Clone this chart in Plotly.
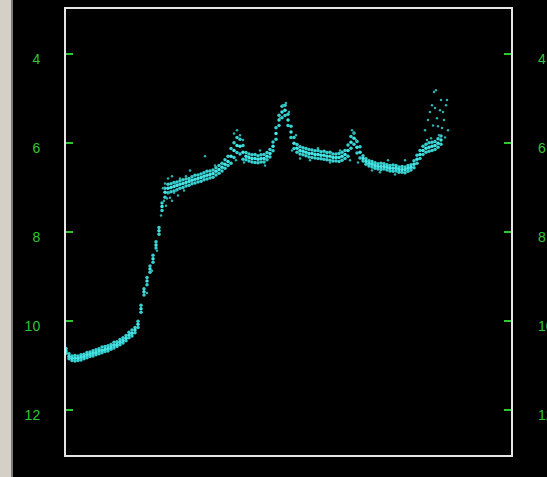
import plotly.graph_objects as go

# sample index (arbitrary units along the trace)
sample = [0, 3, 6, 9, 12, 15, 18, 21, 24, 27,
          30, 33, 36, 39, 42, 45, 48, 51, 54, 57,
          60, 63, 66, 69, 72, 75, 78, 81, 84, 87,
          90, 93, 96, 99, 102, 105, 108, 111, 114, 117,
          120, 123, 126, 129, 132, 135, 138, 141, 144, 147,
          150, 153, 156, 159, 162, 165, 168, 171, 174, 177,
          180, 183, 186, 189, 192, 195, 198, 201, 204, 207,
          210, 213, 216, 219, 222, 225, 228, 231, 234, 237,
          240, 243, 246, 249, 252, 255, 258, 261, 264, 267,
          270, 273, 276, 279, 282, 285, 288, 291, 294, 297,
          300, 303, 306, 309, 312, 315, 318, 321, 324, 327,
          330, 333, 336, 339, 342, 345, 348, 351, 354, 357,
          360, 363, 366, 369, 372, 375]

mid_vals = [10.67, 10.79, 10.83, 10.83, 10.83, 10.81, 10.79, 10.76, 10.74, 10.72,
            10.70, 10.67, 10.65, 10.63, 10.61, 10.58, 10.54, 10.52, 10.47, 10.43,
            10.38, 10.31, 10.27, 10.20, 10.07, 9.72, 9.34, 9.10, 8.83, 8.60,
            8.29, 7.97, 7.43, 7.11, 7.02, 7.00, 6.98, 6.96, 6.93, 6.91,
            6.89, 6.87, 6.84, 6.82, 6.80, 6.78, 6.75, 6.73, 6.71, 6.69,
            6.64, 6.60, 6.55, 6.48, 6.42, 6.30, 6.17, 6.06, 6.08, 6.21,
            6.30, 6.33, 6.35, 6.35, 6.37, 6.35, 6.35, 6.30, 6.24, 6.08,
            5.79, 5.49, 5.31, 5.27, 5.49, 5.76, 6.01, 6.12, 6.17, 6.19,
            6.21, 6.24, 6.24, 6.26, 6.26, 6.28, 6.28, 6.30, 6.30, 6.33,
            6.33, 6.33, 6.30, 6.26, 6.17, 5.99, 5.90, 6.10, 6.21, 6.35,
            6.42, 6.46, 6.48, 6.51, 6.53, 6.53, 6.53, 6.55, 6.57, 6.57,
            6.57, 6.60, 6.60, 6.60, 6.57, 6.55, 6.48, 6.37, 6.26, 6.17,
            6.12, 6.10, 6.08, 6.06, 6.01, 5.94]

upper_vals = [10.61, 10.73, 10.78, 10.77, 10.78, 10.75, 10.74, 10.70, 10.69, 10.66,
              10.64, 10.62, 10.58, 10.57, 10.55, 10.52, 10.47, 10.46, 10.41, 10.37,
              10.32, 10.25, 10.20, 10.14, 10.00, 9.64, 9.27, 9.02, 8.76, 8.52,
              8.22, 7.90, 7.35, 7.02, 6.93, 6.92, 6.89, 6.88, 6.85, 6.83,
              6.81, 6.80, 6.76, 6.73, 6.72, 6.70, 6.67, 6.64, 6.63, 6.61,
              6.56, 6.51, 6.46, 6.38, 6.30, 6.13, 6.00, 5.88, 5.92, 6.06,
              6.22, 6.25, 6.27, 6.26, 6.29, 6.27, 6.26, 6.22, 6.15, 5.98,
              5.66, 5.38, 5.18, 5.16, 5.36, 5.63, 5.88, 6.04, 6.09, 6.11,
              6.13, 6.15, 6.16, 6.18, 6.17, 6.20, 6.19, 6.22, 6.21, 6.25,
              6.25, 6.24, 6.21, 6.17, 6.05, 5.86, 5.78, 5.97, 6.09, 6.29,
              6.36, 6.40, 6.42, 6.45, 6.47, 6.46, 6.47, 6.49, 6.51, 6.50,
              6.51, 6.54, 6.53, 6.54, 6.51, 6.49, 6.40, 6.28, 6.17, 6.08,
              6.03, 6.00, 5.99, 5.97, 5.91, 5.85]

lower_vals = [10.72, 10.84, 10.88, 10.89, 10.88, 10.87, 10.84, 10.82, 10.79, 10.78,
              10.75, 10.73, 10.71, 10.68, 10.67, 10.63, 10.60, 10.57, 10.53, 10.49,
              10.44, 10.37, 10.33, 10.26, 10.14, 9.80, 9.41, 9.18, 8.90, 8.68,
              8.36, 8.05, 7.52, 7.22, 7.12, 7.10, 7.08, 7.05, 7.02, 7.00,
              6.97, 6.95, 6.92, 6.90, 6.88, 6.86, 6.83, 6.81, 6.79, 6.77,
              6.72, 6.68, 6.63, 6.57, 6.51, 6.46, 6.33, 6.22, 6.25, 6.37,
              6.38, 6.41, 6.43, 6.44, 6.45, 6.43, 6.43, 6.38, 6.32, 6.18,
              5.92, 5.61, 5.44, 5.39, 5.61, 5.88, 6.13, 6.21, 6.25, 6.27,
              6.29, 6.32, 6.33, 6.34, 6.35, 6.36, 6.37, 6.38, 6.39, 6.41,
              6.41, 6.42, 6.39, 6.35, 6.30, 6.12, 6.03, 6.23, 6.34, 6.41,
              6.48, 6.52, 6.54, 6.57, 6.59, 6.60, 6.59, 6.61, 6.63, 6.64,
              6.63, 6.66, 6.66, 6.67, 6.64, 6.61, 6.56, 6.46, 6.35, 6.26,
              6.21, 6.19, 6.17, 6.15, 6.10, 6.03]

# sparse scattered readings
scatter_x = [359, 362, 364, 366, 368, 370, 367, 371, 374, 376, 378, 380, 381, 382,
             379, 373, 375, 369, 377, 372, 365, 361,
             98, 101, 104, 108, 112, 102, 106,
             97, 99, 103, 106, 110, 114, 118, 100, 109, 120,
             217, 220, 214, 223,
             168, 171, 174, 177, 170, 178,
             286, 288, 290, 284, 292,
             234, 244, 264, 274, 252, 314, 329, 339, 306, 322,
             86, 91, 95, 81, 139, 124, 149, 194, 199, 230, 226]
scatter_y = [5.72, 5.49, 5.31, 5.16, 4.86, 4.82, 5.61, 5.45, 5.27, 5.67, 5.49, 5.16, 5.04, 5.72,
             5.88, 5.83, 5.04, 5.22, 5.31, 5.63, 5.90, 5.94,
             7.30, 7.25, 7.23, 7.12, 7.18, 6.80, 6.75,
             7.02, 6.91, 7.12, 7.30, 7.07, 6.80, 7.07, 7.41, 6.91, 6.75,
             5.16, 5.11, 5.45, 5.31,
             5.79, 5.72, 5.83, 5.94, 6.39, 6.44,
             5.72, 5.79, 5.94, 6.39, 6.44,
             6.35, 6.39, 6.44, 6.17, 6.12, 6.66, 6.71, 6.39, 6.62, 6.39,
             8.87, 8.42, 7.63, 9.37, 6.30, 6.62, 6.51, 6.17, 6.51, 5.83, 6.17]

tick_vals = [3, 4, 6, 8, 10, 12]
tick_text = ["", "4", "6", "8", "10", "12"]

GREEN = "#2ec82e"
CYAN = "#44e6e6"
FRAME = "#e6e6e6"

fig = go.Figure()
for vals, col, sz in [(upper_vals, "#38d0d0", 3.5), (lower_vals, "#38d0d0", 3.5), (mid_vals, CYAN, 3.5)]:
    fig.add_trace(go.Scatter(x=sample, y=vals, mode="markers",
                             marker=dict(color=col, size=sz, line=dict(width=0)),
                             showlegend=False, hoverinfo="skip"))
fig.add_trace(go.Scatter(x=scatter_x, y=scatter_y, mode="markers",
                         marker=dict(color="#2fb0b0", size=2.5, line=dict(width=0)),
                         showlegend=False, hoverinfo="skip"))
# invisible trace to drive right axis
fig.add_trace(go.Scatter(x=[sample[0]], y=[mid_vals[0]], yaxis="y2", mode="markers",
                         marker=dict(opacity=0), showlegend=False, hoverinfo="skip"))

W, H = 547, 477
ML, MR, MT, MB = 66, 36, 9, 22
PW, PH = W - ML - MR, H - MT - MB

axis_font = dict(family="Liberation Sans", size=14, color=GREEN)

fig.update_layout(
    width=W, height=H,
    margin=dict(l=ML, r=MR, t=MT, b=MB, pad=0, autoexpand=False),
    paper_bgcolor="black", plot_bgcolor="black",
    xaxis=dict(range=[0, 445], showticklabels=False, ticks="", showgrid=False, automargin=False,
               zeroline=False, showline=True, mirror=True, linecolor=FRAME, linewidth=2),
    yaxis=dict(range=[13, 3], tickvals=tick_vals, ticktext=tick_text, ticks="inside",
               ticklen=7, tickwidth=2, tickcolor=GREEN, tickfont=axis_font, automargin=False,
               showgrid=False, zeroline=False, showline=True, mirror=True,
               linecolor=FRAME, linewidth=2, ticklabelstandoff=21, ticklabelshift=-5),
    yaxis2=dict(range=[13, 3], overlaying="y", side="right", tickvals=tick_vals,
                ticktext=tick_text, ticks="inside", ticklen=7, tickwidth=2, automargin=False,
                tickcolor=GREEN, tickfont=axis_font, showgrid=False, zeroline=False,
                showline=False, ticklabelstandoff=26, ticklabelshift=-5),
    shapes=[
        dict(type="rect", xref="paper", yref="paper", x0=-ML / PW, x1=-(ML - 11) / PW,
             y0=-MB / PH, y1=1 + MT / PH, fillcolor="#d4d0c8", line=dict(width=0), layer="below"),
        dict(type="rect", xref="paper", yref="paper", x0=-(ML - 11) / PW, x1=-(ML - 13) / PW,
             y0=-MB / PH, y1=1 + MT / PH, fillcolor="#7a7a7a", line=dict(width=0), layer="below"),
    ],
)

fig.write_html("out.html",
               config={"displayModeBar": False},
               post_script="document.body.style.margin='0';document.body.style.background='black';")
